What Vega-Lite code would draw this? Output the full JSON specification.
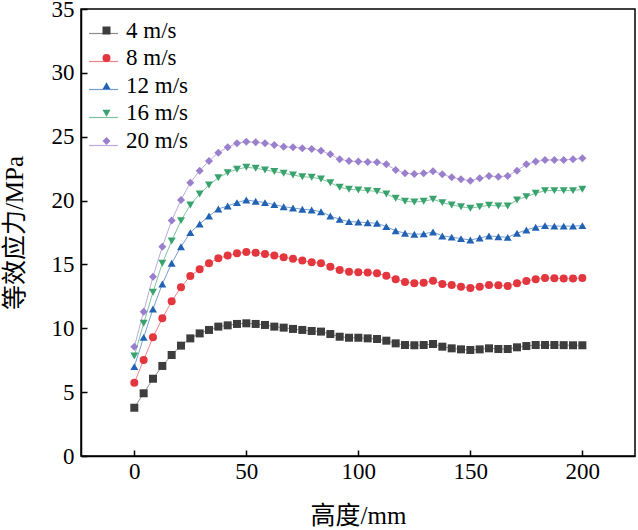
{
  "$schema": "https://vega.github.io/schema/vega-lite/v6.json",
  "width": 554,
  "height": 447,
  "autosize": {"type": "none"},
  "padding": {"left": 81, "top": 9, "right": 3, "bottom": 74},
  "background": "white",
  "config": {
    "view": {"stroke": "#000", "strokeWidth": 1.5},
    "font": "Liberation Serif"
  },
  "data": {
    "values": [
      {"h": 0, "4 m/s": 3.78, "8 m/s": 5.74, "12 m/s": 7.0, "16 m/s": 7.83, "20 m/s": 8.56},
      {"h": 4.17, "4 m/s": 4.91, "8 m/s": 7.52, "12 m/s": 9.29, "16 m/s": 10.39, "20 m/s": 11.3},
      {"h": 8.33, "4 m/s": 6.05, "8 m/s": 9.29, "12 m/s": 11.51, "16 m/s": 12.82, "20 m/s": 14.04},
      {"h": 12.5, "4 m/s": 7.05, "8 m/s": 10.78, "12 m/s": 13.47, "16 m/s": 15.09, "20 m/s": 16.39},
      {"h": 16.67, "4 m/s": 7.91, "8 m/s": 12.11, "12 m/s": 15.09, "16 m/s": 16.84, "20 m/s": 18.43},
      {"h": 20.83, "4 m/s": 8.64, "8 m/s": 13.21, "12 m/s": 16.39, "16 m/s": 18.43, "20 m/s": 20.05},
      {"h": 25, "4 m/s": 9.21, "8 m/s": 14.1, "12 m/s": 17.49, "16 m/s": 19.66, "20 m/s": 21.4},
      {"h": 29.17, "4 m/s": 9.6, "8 m/s": 14.62, "12 m/s": 18.17, "16 m/s": 20.52, "20 m/s": 22.34},
      {"h": 33.33, "4 m/s": 9.87, "8 m/s": 15.09, "12 m/s": 18.79, "16 m/s": 21.22, "20 m/s": 23.1},
      {"h": 37.5, "4 m/s": 10.13, "8 m/s": 15.48, "12 m/s": 19.34, "16 m/s": 21.79, "20 m/s": 23.75},
      {"h": 41.67, "4 m/s": 10.23, "8 m/s": 15.69, "12 m/s": 19.58, "16 m/s": 22.19, "20 m/s": 24.17},
      {"h": 45.83, "4 m/s": 10.34, "8 m/s": 15.87, "12 m/s": 19.84, "16 m/s": 22.45, "20 m/s": 24.49},
      {"h": 50, "4 m/s": 10.39, "8 m/s": 15.97, "12 m/s": 20.05, "16 m/s": 22.61, "20 m/s": 24.61},
      {"h": 54.17, "4 m/s": 10.34, "8 m/s": 15.92, "12 m/s": 19.94, "16 m/s": 22.53, "20 m/s": 24.56},
      {"h": 58.33, "4 m/s": 10.26, "8 m/s": 15.82, "12 m/s": 19.84, "16 m/s": 22.4, "20 m/s": 24.49},
      {"h": 62.5, "4 m/s": 10.13, "8 m/s": 15.69, "12 m/s": 19.68, "16 m/s": 22.27, "20 m/s": 24.35},
      {"h": 66.67, "4 m/s": 10.05, "8 m/s": 15.56, "12 m/s": 19.52, "16 m/s": 22.14, "20 m/s": 24.22},
      {"h": 70.83, "4 m/s": 9.95, "8 m/s": 15.45, "12 m/s": 19.42, "16 m/s": 22.0, "20 m/s": 24.18},
      {"h": 75, "4 m/s": 9.87, "8 m/s": 15.3, "12 m/s": 19.32, "16 m/s": 21.87, "20 m/s": 24.09},
      {"h": 79.17, "4 m/s": 9.79, "8 m/s": 15.17, "12 m/s": 19.26, "16 m/s": 21.82, "20 m/s": 24.04},
      {"h": 83.33, "4 m/s": 9.74, "8 m/s": 15.09, "12 m/s": 19.13, "16 m/s": 21.69, "20 m/s": 23.91},
      {"h": 87.5, "4 m/s": 9.55, "8 m/s": 14.82, "12 m/s": 18.79, "16 m/s": 21.4, "20 m/s": 23.62},
      {"h": 91.67, "4 m/s": 9.34, "8 m/s": 14.57, "12 m/s": 18.53, "16 m/s": 21.04, "20 m/s": 23.23},
      {"h": 95.83, "4 m/s": 9.26, "8 m/s": 14.43, "12 m/s": 18.35, "16 m/s": 20.88, "20 m/s": 23.1},
      {"h": 100, "4 m/s": 9.26, "8 m/s": 14.38, "12 m/s": 18.32, "16 m/s": 20.83, "20 m/s": 23.05},
      {"h": 104.17, "4 m/s": 9.21, "8 m/s": 14.36, "12 m/s": 18.27, "16 m/s": 20.78, "20 m/s": 23.02},
      {"h": 108.33, "4 m/s": 9.16, "8 m/s": 14.3, "12 m/s": 18.22, "16 m/s": 20.72, "20 m/s": 23.0},
      {"h": 112.5, "4 m/s": 9.03, "8 m/s": 14.12, "12 m/s": 17.96, "16 m/s": 20.52, "20 m/s": 22.84},
      {"h": 116.67, "4 m/s": 8.82, "8 m/s": 13.84, "12 m/s": 17.64, "16 m/s": 20.18, "20 m/s": 22.4},
      {"h": 120.83, "4 m/s": 8.69, "8 m/s": 13.63, "12 m/s": 17.44, "16 m/s": 19.94, "20 m/s": 22.14},
      {"h": 125, "4 m/s": 8.67, "8 m/s": 13.52, "12 m/s": 17.36, "16 m/s": 19.89, "20 m/s": 22.08},
      {"h": 129.17, "4 m/s": 8.69, "8 m/s": 13.57, "12 m/s": 17.39, "16 m/s": 19.94, "20 m/s": 22.14},
      {"h": 133.33, "4 m/s": 8.77, "8 m/s": 13.73, "12 m/s": 17.54, "16 m/s": 20.1, "20 m/s": 22.29},
      {"h": 137.5, "4 m/s": 8.56, "8 m/s": 13.47, "12 m/s": 17.23, "16 m/s": 19.84, "20 m/s": 22.06},
      {"h": 141.67, "4 m/s": 8.43, "8 m/s": 13.38, "12 m/s": 17.14, "16 m/s": 19.66, "20 m/s": 21.82},
      {"h": 145.83, "4 m/s": 8.35, "8 m/s": 13.26, "12 m/s": 17.02, "16 m/s": 19.52, "20 m/s": 21.67},
      {"h": 150, "4 m/s": 8.3, "8 m/s": 13.16, "12 m/s": 16.91, "16 m/s": 19.4, "20 m/s": 21.56},
      {"h": 154.17, "4 m/s": 8.35, "8 m/s": 13.26, "12 m/s": 17.07, "16 m/s": 19.52, "20 m/s": 21.74},
      {"h": 158.33, "4 m/s": 8.43, "8 m/s": 13.39, "12 m/s": 17.23, "16 m/s": 19.63, "20 m/s": 21.93},
      {"h": 162.5, "4 m/s": 8.38, "8 m/s": 13.36, "12 m/s": 17.17, "16 m/s": 19.58, "20 m/s": 21.87},
      {"h": 166.67, "4 m/s": 8.38, "8 m/s": 13.31, "12 m/s": 17.12, "16 m/s": 19.58, "20 m/s": 21.93},
      {"h": 170.83, "4 m/s": 8.51, "8 m/s": 13.52, "12 m/s": 17.44, "16 m/s": 20.05, "20 m/s": 22.34},
      {"h": 175, "4 m/s": 8.61, "8 m/s": 13.7, "12 m/s": 17.7, "16 m/s": 20.31, "20 m/s": 22.84},
      {"h": 179.17, "4 m/s": 8.69, "8 m/s": 13.84, "12 m/s": 17.91, "16 m/s": 20.57, "20 m/s": 23.05},
      {"h": 183.33, "4 m/s": 8.69, "8 m/s": 13.94, "12 m/s": 18.04, "16 m/s": 20.78, "20 m/s": 23.18},
      {"h": 187.5, "4 m/s": 8.69, "8 m/s": 13.91, "12 m/s": 18.0, "16 m/s": 20.78, "20 m/s": 23.18},
      {"h": 191.67, "4 m/s": 8.68, "8 m/s": 13.89, "12 m/s": 18.0, "16 m/s": 20.78, "20 m/s": 23.18},
      {"h": 195.83, "4 m/s": 8.67, "8 m/s": 13.89, "12 m/s": 18.0, "16 m/s": 20.78, "20 m/s": 23.23},
      {"h": 200, "4 m/s": 8.67, "8 m/s": 13.94, "12 m/s": 18.04, "16 m/s": 20.88, "20 m/s": 23.31}
    ]
  },
  "encoding": {
    "x": {
      "field": "h",
      "type": "quantitative",
      "scale": {"domain": [-23.8, 223.5], "nice": false, "zero": false},
      "axis": {
        "title": "高度/mm",
        "values": [0, 50, 100, 150, 200],
        "grid": false,
        "tickSize": -6,
        "tickWidth": 1.5,
        "tickColor": "#000",
        "domainColor": "#000",
        "domainWidth": 1.5,
        "labelFont": "Liberation Serif",
        "labelFontSize": 23,
        "labelColor": "#000",
        "labelPadding": 10,
        "labelFlush": false,
        "titleFont": "Liberation Serif, Noto Sans CJK SC",
        "titleFontSize": 25,
        "titleFontWeight": "normal",
        "titleColor": "#000",
        "titlePadding": 20
      }
    },
    "y": {
      "field": "v",
      "type": "quantitative",
      "scale": {"domain": [0, 35], "nice": false},
      "axis": {
        "title": "等效应力/MPa",
        "values": [0, 5, 10, 15, 20, 25, 30, 35],
        "grid": false,
        "tickSize": -6,
        "tickWidth": 1.5,
        "tickColor": "#000",
        "domainColor": "#000",
        "domainWidth": 1.5,
        "labelFont": "Liberation Serif",
        "labelFontSize": 23,
        "labelColor": "#000",
        "labelPadding": 13,
        "labelFlush": false,
        "titleFont": "Liberation Serif, Noto Sans CJK SC",
        "titleFontSize": 25,
        "titleFontWeight": "normal",
        "titleColor": "#000",
        "titlePadding": 24
      }
    }
  },
  "layer": [
    {
      "transform": [{"fold": ["4 m/s", "8 m/s", "12 m/s", "16 m/s", "20 m/s"], "as": ["s2", "v"]}],
      "mark": {"type": "line", "strokeWidth": 1, "opacity": 0.8},
      "encoding": {
        "stroke": {
          "field": "s2",
          "type": "nominal",
          "sort": ["4 m/s", "8 m/s", "12 m/s", "16 m/s", "20 m/s"],
          "scale": {
            "range": ["#707070", "#e8656b", "#5585c6", "#5fb489", "#ad96d4"]
          },
          "legend": {
            "orient": "none",
            "legendX": 7,
            "legendY": 9,
            "title": null,
            "padding": 0,
            "symbolType": "stroke",
            "symbolSize": 841,
            "symbolStrokeWidth": 1.2,
            "rowPadding": -2.5,
            "labelExpr": "''",
            "labelFontSize": 23
          }
        }
      }
    },
    {
      "transform": [{"fold": ["4 m/s", "8 m/s", "12 m/s", "16 m/s", "20 m/s"], "as": ["s", "v"]}],
      "mark": {"type": "point", "filled": true, "size": 64, "opacity": 1},
      "encoding": {
        "color": {
          "field": "s",
          "type": "nominal",
          "scale": {
            "domain": ["4 m/s", "8 m/s", "12 m/s", "16 m/s", "20 m/s"],
            "range": ["#3d3d3d", "#e3363e", "#2262b2", "#38a36c", "#9a7fcc"]
          },
          "legend": {
            "orient": "none",
            "legendX": 14,
            "legendY": 10,
            "title": null,
            "padding": 0,
            "symbolSize": 64,
            "symbolStrokeWidth": 0,
            "symbolOpacity": 1,
            "rowPadding": 3.6,
            "labelOffset": 8,
            "labelFont": "Liberation Serif",
            "labelFontSize": 23,
            "labelColor": "#000"
          }
        },
        "shape": {
          "field": "s",
          "type": "nominal",
          "scale": {
            "domain": ["4 m/s", "8 m/s", "12 m/s", "16 m/s", "20 m/s"],
            "range": ["square", "circle", "triangle-up", "triangle-down", "diamond"]
          }
        }
      }
    }
  ]
}
